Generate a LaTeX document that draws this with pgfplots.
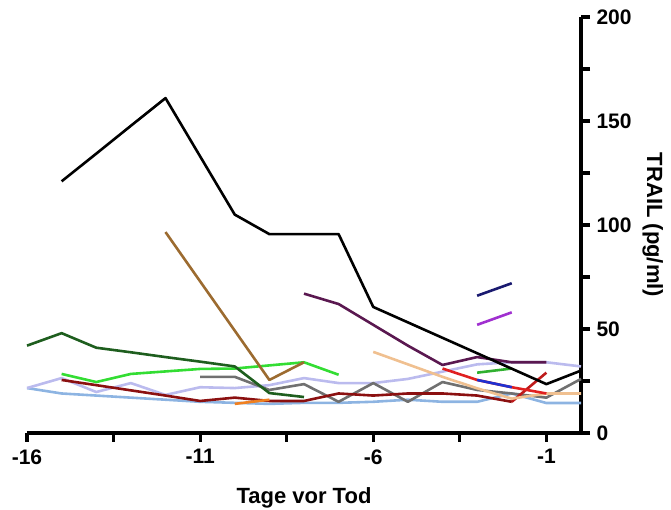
\documentclass[border=0pt]{standalone}
\usepackage{fontspec}
\setmainfont{Liberation Sans}
\usepackage{pgfplots}
\pgfplotsset{compat=1.18}
\definecolor{cBrown}{HTML}{9C6B30}
\definecolor{cDkGreen}{HTML}{1E5E1E}
\definecolor{cBrGreen}{HTML}{33DD33}
\definecolor{cMdGreen}{HTML}{30B030}
\definecolor{cLav}{HTML}{BBBBEE}
\definecolor{cLtBlue}{HTML}{8DB4E2}
\definecolor{cDkRed}{HTML}{8B1010}
\definecolor{cGray}{HTML}{707070}
\definecolor{cDkPurple}{HTML}{5A1850}
\definecolor{cRed}{HTML}{E02020}
\definecolor{cBlue}{HTML}{2030D0}
\definecolor{cNavy}{HTML}{1A1A70}
\definecolor{cViolet}{HTML}{A030D0}
\definecolor{cPeach}{HTML}{F0C090}
\definecolor{cOrange}{HTML}{F08020}
\begin{document}
\begin{tikzpicture}
\begin{axis}[
  name=ax,
  width=554pt, height=416pt, scale only axis,
  xmin=-16, xmax=0, ymin=0, ymax=200,
  axis x line=bottom, axis y line=right,
  axis line style={-, line width=3.2pt},
  xtick={-16,-13.5,-11,-8.5,-6,-3.5,-1},
  xticklabels={-16,,-11,,-6,,-1},
  ytick={0,25,50,75,100,125,150,175,200},
  yticklabels={0,,50,,100,,150,,200},
  tick align=outside,
  major tick length=9pt,
  tick style={line width=3.2pt, black},
  ticklabel style={font=\bfseries\fontsize{21}{24}\selectfont},
  xticklabel style={yshift=-4pt},
  yticklabel style={xshift=3pt},
  xlabel={Tage vor Tod}, ylabel={TRAIL (pg/ml)},
  label style={font=\bfseries\fontsize{22}{26}\selectfont},
  xlabel style={yshift=-16pt},
  ylabel style={rotate=180},
  ylabel shift=4pt,
  every axis plot/.append style={line width=2.6pt, mark=none, line join=round},
  clip=false,
]
% light blue
\addplot[cLtBlue] coordinates {(-16,21.6)(-15,19)(-14,18)(-13,17)(-12,16)(-11,15)(-10,14.5)(-9,14)(-8,14.5)(-7,14.5)(-6,15)(-5,16)(-4,15)(-3,15)(-2,19)(-1,14.4)(0,14.4)};
% lavender
\addplot[cLav] coordinates {(-16,21.6)(-15,26.4)(-14,19.7)(-13,24)(-12,18.3)(-11,22)(-10,21.6)(-9,23)(-8,26.4)(-7,24)(-6,24)(-5,26)(-4,29.5)(-3,33)(-2,34)(-1,34)(0,32)};
% gray
\addplot[cGray] coordinates {(-11,27)(-10,27)(-9,20.7)(-8,23.5)(-7,15)(-6,24)(-5,15)(-4,24.5)(-3,20.7)(-2,19)(-1,17)(0,26)};
% dark red
\addplot[cDkRed] coordinates {(-15,25.5)(-14,23)(-13,20.5)(-12,18)(-11,15.4)(-10,17)(-9,15.4)(-8,15.4)(-7,19)(-6,18)(-5,19)(-4,19)(-3,18)(-2,15)};
\addplot[cRed!85!black] coordinates {(-2,15)(-1,29)};
% orange
\addplot[cOrange] coordinates {(-10,14)(-9,16)};
% peach
\addplot[cPeach] coordinates {(-6,39)(-5,33)(-4,27)(-3,21.5)(-2,16.5)(-1,19)(0,19)};
% bright green
\addplot[cBrGreen] coordinates {(-15,28.4)(-14,24.5)(-13,28.4)(-12,29.6)(-11,30.8)(-10,31)(-9,32.5)(-8,34)(-7,28)};
\addplot[cMdGreen] coordinates {(-3,29)(-2,31)};
% dark green
\addplot[cDkGreen] coordinates {(-16,42)(-15,48)(-14,41)(-13,38.8)(-12,36.5)(-11,34.3)(-10,32)(-9,19.2)(-8,17.3)};
% brown
\addplot[cBrown] coordinates {(-12,96.6)(-9,25.5)(-8,34)};
% dark purple
\addplot[cDkPurple] coordinates {(-8,67)(-7,62)(-6,52)(-5,42)(-4,32.7)(-3,36.5)(-2,34)(-1,34)};
% red and blue
\addplot[cRed] coordinates {(-4,31)(-3,25.5)(-2,22)(-1,19)};
\addplot[cBlue] coordinates {(-3,25.5)(-2,22)};
% navy, violet
\addplot[cNavy] coordinates {(-3,66)(-2,72)};
\addplot[cViolet] coordinates {(-3,52)(-2,58)};
% black
\addplot[black] coordinates {(-15,121)(-14,134.3)(-13,147.7)(-12,161)(-10,105)(-9,95.6)(-8,95.6)(-7,95.6)(-6,60.6)(-1,23.5)(0,30)};
\end{axis}
\pgfresetboundingbox
\path ([shift={(-27pt,-77pt)}]ax.south west) rectangle ([shift={(90pt,17pt)}]ax.north east);
\end{tikzpicture}
\end{document}
